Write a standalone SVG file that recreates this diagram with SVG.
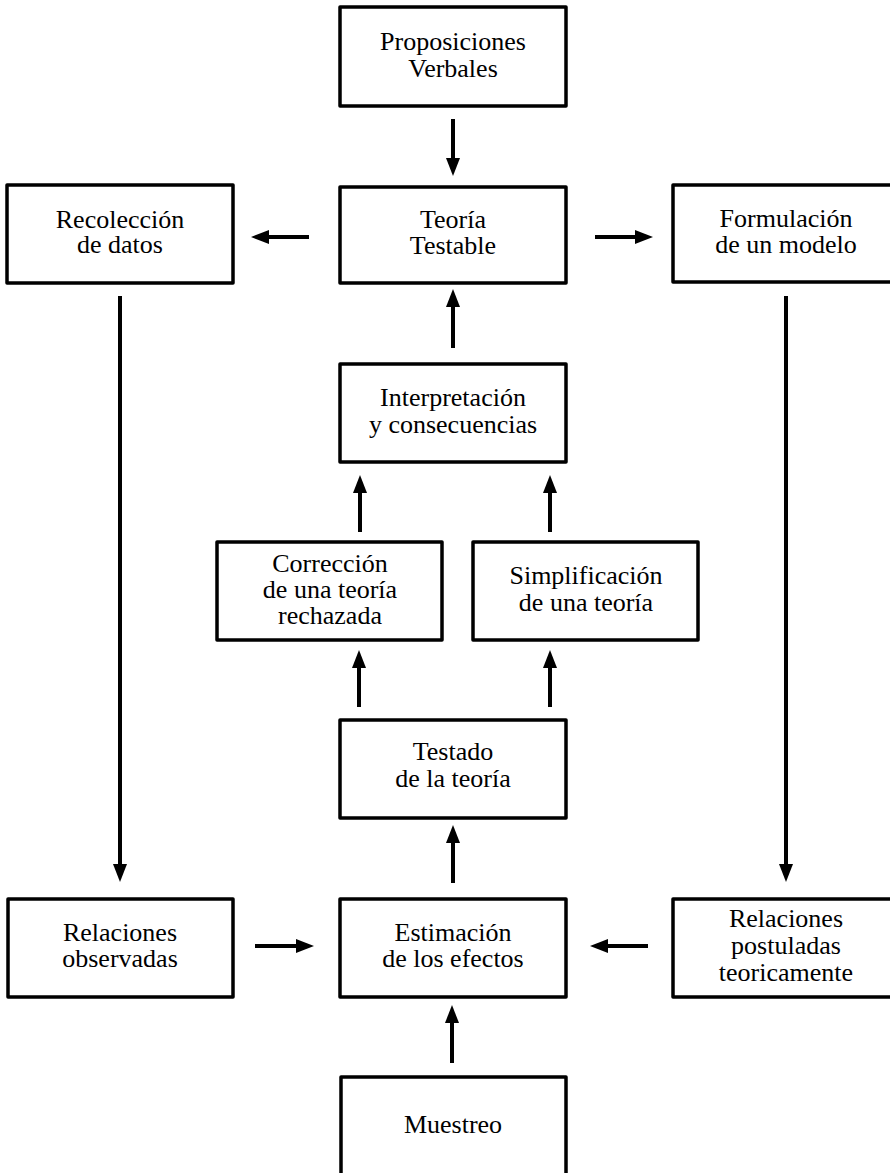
<svg xmlns="http://www.w3.org/2000/svg" width="890" height="1173" viewBox="0 0 890 1173">
<style>
.box{fill:#fff;stroke:#000;stroke-width:3.5;stroke-linejoin:round}
.lbl{font-family:"Liberation Serif","Times New Roman",serif;font-size:26px;fill:#000;text-anchor:middle}
.conn{stroke:#000;stroke-width:4;fill:none;marker-end:url(#ah)}
</style>
<defs>
<marker id="ah" viewBox="0 -7 18 14" markerWidth="18" markerHeight="14" refX="1" refY="0" orient="auto" markerUnits="userSpaceOnUse">
<path d="M0,-7 L18,0 L0,7 z" fill="#000"/>
</marker>
</defs>
<rect width="890" height="1173" fill="#fff"/>
<g id="connectors">
<line class="conn" x1="453" y1="119" x2="453" y2="159"/>
<line class="conn" x1="309" y1="237" x2="268" y2="237"/>
<line class="conn" x1="595" y1="237" x2="636" y2="237"/>
<line class="conn" x1="453" y1="348" x2="453" y2="306"/>
<line class="conn" x1="360" y1="532" x2="360" y2="492"/>
<line class="conn" x1="550" y1="532" x2="550" y2="492"/>
<line class="conn" x1="359" y1="707" x2="359" y2="667"/>
<line class="conn" x1="550" y1="707" x2="550" y2="667"/>
<line class="conn" x1="453" y1="883" x2="453" y2="842"/>
<line class="conn" x1="120" y1="296" x2="120" y2="865"/>
<line class="conn" x1="786" y1="296" x2="786" y2="865"/>
<line class="conn" x1="255" y1="946" x2="297" y2="946"/>
<line class="conn" x1="648" y1="946" x2="607" y2="946"/>
<line class="conn" x1="452" y1="1063" x2="452" y2="1022"/>
</g>
<g id="n-proposiciones">
<rect class="box" x="340" y="7" width="226" height="99"/>
<text class="lbl" x="453" y="50">Proposiciones<tspan x="453" dy="27">Verbales</tspan></text>
</g>
<g id="n-teoria">
<rect class="box" x="340" y="187" width="226" height="96"/>
<text class="lbl" x="453" y="228">Teoría<tspan x="453" dy="26">Testable</tspan></text>
</g>
<g id="n-recoleccion">
<rect class="box" x="7" y="185" width="226" height="98"/>
<text class="lbl" x="120" y="228">Recolección<tspan x="120" dy="25">de datos</tspan></text>
</g>
<g id="n-formulacion">
<rect class="box" x="673" y="185" width="226" height="97"/>
<text class="lbl" x="786" y="227">Formulación<tspan x="786" dy="26">de un modelo</tspan></text>
</g>
<g id="n-interpretacion">
<rect class="box" x="340" y="364" width="226" height="98"/>
<text class="lbl" x="453" y="406">Interpretación<tspan x="453" dy="27">y consecuencias</tspan></text>
</g>
<g id="n-correccion">
<rect class="box" x="217" y="542" width="225" height="98"/>
<text class="lbl" x="330" y="572">Corrección<tspan x="330" dy="26">de una teoría</tspan><tspan x="330" dy="26">rechazada</tspan></text>
</g>
<g id="n-simplificacion">
<rect class="box" x="473" y="542" width="225" height="98"/>
<text class="lbl" x="586" y="584">Simplificación<tspan x="586" dy="27">de una teoría</tspan></text>
</g>
<g id="n-testado">
<rect class="box" x="340" y="720" width="226" height="98"/>
<text class="lbl" x="453" y="760">Testado<tspan x="453" dy="27">de la teoría</tspan></text>
</g>
<g id="n-observadas">
<rect class="box" x="8" y="899" width="225" height="98"/>
<text class="lbl" x="120" y="941">Relaciones<tspan x="120" dy="26">observadas</tspan></text>
</g>
<g id="n-estimacion">
<rect class="box" x="340" y="899" width="226" height="98"/>
<text class="lbl" x="453" y="941">Estimación<tspan x="453" dy="26">de los efectos</tspan></text>
</g>
<g id="n-postuladas">
<rect class="box" x="673" y="899" width="226" height="98"/>
<text class="lbl" x="786" y="927">Relaciones<tspan x="786" dy="27">postuladas</tspan><tspan x="786" dy="27">teoricamente</tspan></text>
</g>
<g id="n-muestreo">
<rect class="box" x="341" y="1077" width="225" height="120"/>
<text class="lbl" x="453" y="1133">Muestreo</text>
</g>
</svg>
